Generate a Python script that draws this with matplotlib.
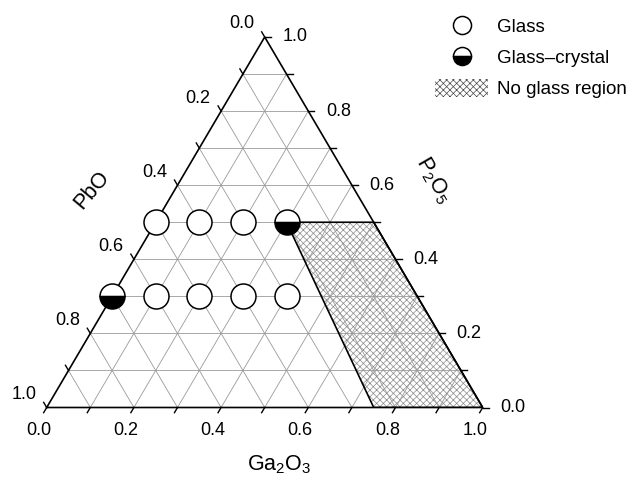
import matplotlib
matplotlib.use('Agg')
import matplotlib.pyplot as plt
from matplotlib.lines import Line2D
from matplotlib.patches import Patch, Polygon

plt.rcParams['font.family'] = ['Liberation Sans', 'DejaVu Sans']
plt.rcParams['mathtext.fontset'] = 'custom'
plt.rcParams['mathtext.rm'] = 'Liberation Sans'
plt.rcParams['mathtext.it'] = 'Liberation Sans'
plt.rcParams['hatch.linewidth'] = 0.5

# compositions (mole fractions): Ga2O3, P2O5 (PbO = 1 - Ga2O3 - P2O5)
glass_ga = [0.0, 0.1, 0.2, 0.1, 0.2, 0.3, 0.4]
glass_p = [0.5, 0.5, 0.5, 0.3, 0.3, 0.3, 0.3]
gc_ga = [0.3, 0.0]
gc_p = [0.5, 0.3]
noglass_ga = [0.3, 0.5, 1.0, 0.75]
noglass_p = [0.5, 0.5, 0.0, 0.0]
grid_vals = [0.1, 0.2, 0.3, 0.4, 0.5, 0.6, 0.7, 0.8, 0.9]
tick_vals = [0.0, 0.1, 0.2, 0.3, 0.4, 0.5, 0.6, 0.7, 0.8, 0.9, 1.0]
label_vals = [0.0, 0.2, 0.4, 0.6, 0.8, 1.0]

W, H = 436.0, 370.5  # triangle size in pixels


def xy(ga, p):
    return ga + p / 2.0, p


def px(dx, dy):
    # pixel offset (y down) -> data offset
    return dx / W, -dy / H


fig = plt.figure(figsize=(6.35, 4.79), dpi=100)
ax = fig.add_axes([46.7 / 635, (479 - 407.5) / 479, W / 635, H / 479])
ax.set_xlim(0, 1)
ax.set_ylim(0, 1)
ax.axis('off')

# grid
for v in grid_vals:
    for a, b in [((0, v), (1 - v, v)), ((v, 0), (v, 1 - v)), ((1 - v, 0), (0, 1 - v))]:
        x0, y0 = xy(*a)
        x1, y1 = xy(*b)
        ax.plot([x0, x1], [y0, y1], color='#9a9a9a', lw=0.6, zorder=1, clip_on=False)

# no glass region
verts = [xy(g, p) for g, p in zip(noglass_ga, noglass_p)]
ax.add_patch(Polygon(verts, closed=True, facecolor='none', edgecolor='#8c8c8c',
                     hatch='xxxxx', lw=0, zorder=0.5))
ax.add_patch(Polygon(verts, closed=True, facecolor='none', edgecolor='black',
                     lw=1.2, zorder=2))

# triangle outline
tri = [xy(0, 0), xy(1, 0), xy(0, 1), xy(0, 0)]
ax.plot([t[0] for t in tri], [t[1] for t in tri], color='black', lw=1.2,
        zorder=2, clip_on=False, solid_joinstyle='miter')

# ticks and tick labels
L = 6
for v in tick_vals:
    # bottom: Ga2O3
    x0, y0 = xy(v, 0)
    dx, dy = px(-0.507 * L, 0.862 * L)
    ax.plot([x0, x0 + dx], [y0, y0 + dy], color='black', lw=1.0, clip_on=False, zorder=2)
    # right: P2O5
    x0, y0 = xy(1 - v, v)
    dx, dy = px(L, 0)
    ax.plot([x0, x0 + dx], [y0, y0 + dy], color='black', lw=1.0, clip_on=False, zorder=2)
    # left: PbO
    x0, y0 = xy(0, 1 - v)
    dx, dy = px(-0.507 * L, -0.862 * L)
    ax.plot([x0, x0 + dx], [y0, y0 + dy], color='black', lw=1.0, clip_on=False, zorder=2)

for v in label_vals:
    s = '%.1f' % v
    ax.annotate(s, xy(v, 0), xytext=(-8, -23), textcoords='offset pixels',
                ha='center', va='center', fontsize=13)
    ax.annotate(s, xy(1 - v, v), xytext=(30, 0), textcoords='offset pixels',
                ha='center', va='center', fontsize=13)
    ax.annotate(s, xy(0, 1 - v), xytext=(-23, 13), textcoords='offset pixels',
                ha='center', va='center', fontsize=13)

# axis titles
fig.text(279 / 635, 1 - 465 / 479, 'Ga$_2$O$_3$', ha='center', va='center', fontsize=15.5)
fig.text(92 / 635, 1 - 190 / 479, 'PbO', ha='center', va='center', fontsize=15.5, rotation=50)
fig.text(433 / 635, 1 - 180 / 479, 'P$_2$O$_5$', ha='center', va='center', fontsize=15.5, rotation=-60)

# points
gx, gy = zip(*[xy(g, p) for g, p in zip(glass_ga, glass_p)])
ax.plot(gx, gy, 'o', ms=18, mfc='white', mec='black', mew=1.1, ls='none', zorder=3, clip_on=False)
cx, cy = zip(*[xy(g, p) for g, p in zip(gc_ga, gc_p)])
ax.plot(cx, cy, 'o', ms=18, fillstyle='bottom', mfc='black', mfcalt='white', mec='black',
        mew=1.1, ls='none', zorder=3, clip_on=False)

# legend
handles = [
    Line2D([], [], marker='o', ms=13, mfc='white', mec='black', mew=1.1, ls='none'),
    Line2D([], [], marker='o', ms=13, fillstyle='bottom', mfc='black', mfcalt='white',
           mec='black', mew=1.1, ls='none'),
    Patch(facecolor='white', edgecolor='#4a4a4a', hatch='xxxxx', lw=0),
]
fig.legend(handles, ['Glass', 'Glass\u2013crystal', 'No glass region'],
           loc='upper left', bbox_to_anchor=(435 / 635, 1 - 17 / 479), frameon=False,
           fontsize=13.5, handlelength=2.85, handleheight=1.1, labelspacing=0.62,
           handletextpad=0.45, borderpad=0, borderaxespad=0)

fig.savefig('out.png', dpi=100)
